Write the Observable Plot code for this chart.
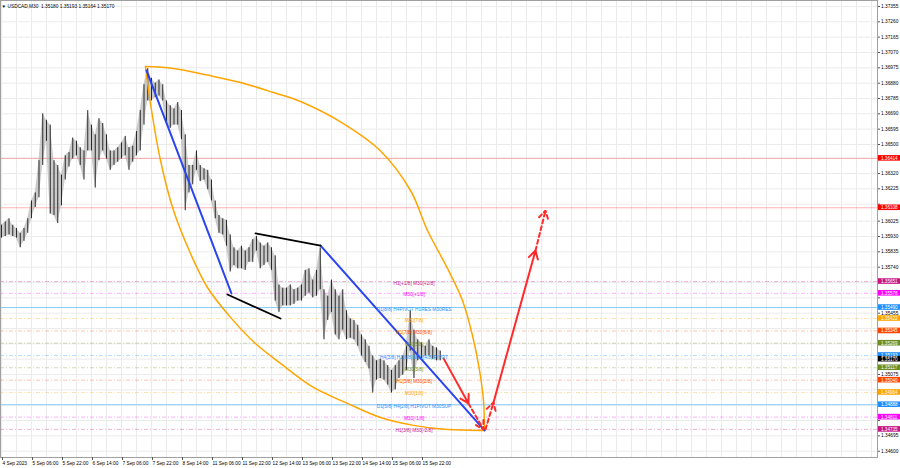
<!DOCTYPE html>
<html><head><meta charset="utf-8">
<script src="https://cdn.jsdelivr.net/npm/d3@7"></script>
<script src="https://cdn.jsdelivr.net/npm/@observablehq/plot@0.6"></script>
<style>
html,body{margin:0;padding:0;background:#fff;}
#chart svg{display:block;}
</style></head><body><div id="chart"></div>
<script>
// ---------- data ----------
const symbolTitle = "USDCAD,M30  1.35180 1.35193 1.35164 1.35170";
const barStep = 4; // one sample every 4 M30 bars
const highs = [
1.3600,1.3602,1.3604,1.3600,1.3598,1.3595,1.3598,1.3604,1.3615,1.3620,
1.3640,1.3669,1.3665,1.3662,1.3640,1.3637,1.3631,1.3643,1.3645,1.3654,
1.3652,1.3648,1.3646,1.3671,1.3662,1.3656,1.3666,1.3663,1.3656,1.3646,
1.3646,1.3648,1.3651,1.3655,1.3648,1.3649,1.3658,1.3671,1.3687,1.3697,
1.3691,1.3688,1.3690,1.3687,1.3677,1.3674,1.3672,1.3676,1.3671,1.3656,
1.3637,1.3637,1.3646,1.3637,1.3635,1.3634,1.3628,1.3615,1.3606,1.3604,
1.3603,1.3594,1.3586,1.3584,1.3587,1.3584,1.3586,1.3591,1.3593,1.3589,
1.3587,1.3589,1.3586,1.3581,1.3563,1.3561,1.3561,1.3563,1.3560,1.3561,
1.3563,1.3572,1.3573,1.3566,1.3572,1.3586,1.3560,1.3556,1.3566,1.3560,
1.3556,1.3560,1.3547,1.3542,1.3541,1.3538,1.3532,1.3529,1.3525,1.3519,
1.3516,1.3517,1.3516,1.3513,1.3510,1.3513,1.3516,1.3519,1.3525,1.3547,
1.3535,1.3529,1.3527,1.3525,1.3529,1.3525,1.3524,1.3522];
const lows = [
1.3592,1.3593,1.3594,1.3593,1.3592,1.3586,1.3590,1.3595,1.3604,1.3611,
1.3617,1.3637,1.3652,1.3607,1.3606,1.3601,1.3612,1.3628,1.3636,1.3641,
1.3643,1.3637,1.3628,1.3646,1.3646,1.3623,1.3640,1.3646,1.3641,1.3634,
1.3637,1.3639,1.3641,1.3643,1.3634,1.3639,1.3643,1.3646,1.3662,1.3677,
1.3677,1.3679,1.3680,1.3677,1.3662,1.3660,1.3662,1.3662,1.3653,1.3609,
1.3620,1.3625,1.3634,1.3627,1.3628,1.3622,1.3615,1.3604,1.3595,1.3594,
1.3587,1.3571,1.3575,1.3573,1.3573,1.3572,1.3577,1.3577,1.3584,1.3573,
1.3575,1.3577,1.3572,1.3553,1.3546,1.3550,1.3550,1.3550,1.3551,1.3553,
1.3553,1.3556,1.3558,1.3555,1.3556,1.3560,1.3529,1.3541,1.3546,1.3532,
1.3529,1.3535,1.3529,1.3530,1.3529,1.3525,1.3519,1.3515,1.3511,1.3496,
1.3504,1.3505,1.3504,1.3501,1.3496,1.3498,1.3505,1.3507,1.3510,1.3522,
1.3505,1.3516,1.3517,1.3519,1.3519,1.3517,1.3516,1.3516];

const timeLabels = ["4 Sep 2023","5 Sep 06:00","5 Sep 22:00","6 Sep 14:00","7 Sep 06:00","7 Sep 22:00","8 Sep 14:00","11 Sep 06:00","11 Sep 22:00","12 Sep 14:00","13 Sep 06:00","13 Sep 22:00","14 Sep 14:00","15 Sep 06:00","15 Sep 22:00"];
const barsPerLabel = 32;
const priceTicks = [1.34600,1.34695,1.34790,1.34885,1.34980,1.35075,1.35170,1.35265,1.35360,1.35455,1.35550,1.35645,1.35740,1.35835,1.35930,1.36025,1.36130,1.36225,1.36320,1.36415,1.36500,1.36595,1.36690,1.36785,1.36880,1.36975,1.37070,1.37165,1.37260,1.37355];

const redLevels = [1.36414, 1.36108];
const levelPrices = [1.35651,1.35578,1.35490,1.35422,1.35345,1.35269,1.35193,1.35117,1.35040,1.34964,1.34888,1.34811,1.34735];
const levelNames = ["H1[+1/8] M30[+2/8]","M30[+1/8]","D1[8/8] H4PIVOT H1RES M30RES","M30[7/8]","H1[7/8] M30[6/8]","M30[5/8]","H4[3/8] H1[6/8] M30[4/8] PIVOT","M30[3/8]","H1[5/8] M30[2/8]","M30[1/8]","D1[5/8] H4[2/8] H1PIVOT M30SUP","M30[-1/8]","H1[3/8] M30[-2/8]"];
const levelColors = ["#c71585","#ff00ff","#1e90ff","#ffa500","#ff4500","#6b8e23","#1e90ff","#6b8e23","#ff4500","#ffa500","#1e90ff","#ff00ff","#c71585"];
const levelSolid = [false,false,true,false,false,false,false,false,false,false,true,false,false];
const currentPrice = 1.35170;

// drawn objects: [bar, price]
const arcUpper = [[153.6,1.36983],[183.5,1.36971],[219.7,1.36930],[254.9,1.36884],[290.1,1.36822],[318.9,1.36766],[361.6,1.36640],[404.3,1.36460],[436.3,1.36215],[454.4,1.35967],[476.8,1.35720],[491.7,1.35534],[502.4,1.35317],[509.9,1.35100],[514.1,1.34914],[515.2,1.34729]];
const arcLower = [[153.6,1.36983],[158.9,1.36754],[169.6,1.36401],[183.5,1.36091],[201.6,1.35825],[219.7,1.35614],[244.3,1.35429],[270.9,1.35267],[297.6,1.35144],[332.8,1.34995],[369.1,1.34896],[404.3,1.34809],[439.5,1.34760],[475.7,1.34734],[515.2,1.34729]];
const blueLines = [[[154.7,1.36958],[245.3,1.35577]], [[340.3,1.35874],[515.2,1.34729]]];
const blackLines = [[[270.9,1.35949],[340.3,1.35874]], [[241.0,1.35571],[297.6,1.35422]]];
const redArrows = [
  {x1:471.5,y1:1.35175,x2:498.1,y2:1.34896,dashed:false},
  {x1:498.1,y1:1.34896,x2:514.1,y2:1.34735,dashed:true},
  {x1:516.3,y1:1.34735,x2:524.8,y2:1.34902,dashed:true},
  {x1:524.8,y1:1.34902,x2:569.6,y2:1.35843,dashed:false},
  {x1:569.6,y1:1.35843,x2:580.3,y2:1.36091,dashed:true}
];

// ---------- build ----------
const W = 900, H = 468;
const plotRight = 877, plotBottom = 457;
const xMin = -1.07, xMax = 934.4;
const yMin = 1.34561, yMax = 1.37392;
const levelLabelBar = 440;

const bars = highs.map((h, i) => ({bar: i * barStep, high: h, low: lows[i]}));
const levels = levelPrices.map((p, i) => ({price: p, name: levelNames[i], color: levelColors[i], solid: levelSolid[i]}));
const boxes = [
  {price: redLevels[0], color: "#ff0000"},
  {price: redLevels[1], color: "#ff0000"},
  ...levels.map(l => ({price: l.price, color: l.color})),
  {price: currentPrice, color: "#000000"}
];
const labelBars = timeLabels.map((_, i) => i * barsPerLabel);
const gridBars = d3.range(0, xMax, barsPerLabel / 2);
const pxPerBar = plotRight / (xMax - xMin);
const pxPerPrice = plotBottom / (yMax - yMin);
const boxX1 = xMax + 1 / pxPerBar, boxX2 = xMax + 23 / pxPerBar;
const halfBox = 2.8 / pxPerPrice;
// tick labels that sit under a price box are hidden by it
const visibleTicks = priceTicks.filter(t => boxes.every(b => Math.abs(b.price - t) * pxPerPrice > 5));

const font = "'Liberation Sans', Arial, sans-serif";

const chart = Plot.plot({
  width: W, height: H,
  marginLeft: 0, marginRight: W - plotRight, marginTop: 0, marginBottom: H - plotBottom,
  style: {fontFamily: font, fontSize: "4.8px", background: "#fff", overflow: "visible"},
  x: {domain: [xMin, xMax], axis: null},
  y: {domain: [yMin, yMax], axis: null},
  marks: [
    // grid
    Plot.ruleY(priceTicks, {stroke: "#ebebeb", strokeWidth: 1}),
    Plot.ruleX(gridBars, {stroke: "#ebebeb", strokeWidth: 1}),
    // levels
    Plot.ruleY(redLevels, {stroke: "#ff0000", strokeOpacity: 0.3, strokeWidth: 1}),
    Plot.ruleY(levels.filter(d => d.solid), {y: "price", stroke: "#87cefa", strokeWidth: 1}),
    Plot.ruleY(levels.filter(d => !d.solid), {y: "price", stroke: "color", strokeOpacity: 0.4, strokeWidth: 0.8, strokeDasharray: "4,2,1,2"}),
    // price bars
    Plot.areaY(bars, {x: "bar", y1: "low", y2: "high", fill: "#a8a8a8", fillOpacity: 0.6}),
    Plot.ruleX(bars, {x: "bar", y1: "low", y2: "high", stroke: "#2a2a2a", strokeWidth: 1}),
    // objects
    Plot.line(arcUpper, {x: d => d[0], y: d => d[1], stroke: "#ffa500", strokeWidth: 1.5, curve: "catmull-rom"}),
    Plot.line(arcLower, {x: d => d[0], y: d => d[1], stroke: "#ffa500", strokeWidth: 1.5, curve: "catmull-rom"}),
    ...blueLines.map(l => Plot.line(l, {x: d => d[0], y: d => d[1], stroke: "#2a44f0", strokeWidth: 2})),
    ...blackLines.map(l => Plot.line(l, {x: d => d[0], y: d => d[1], stroke: "#000", strokeWidth: 1.8})),
    Plot.arrow(redArrows.filter(d => !d.dashed), {x1: "x1", y1: "y1", x2: "x2", y2: "y2", stroke: "#ff2a2a", strokeWidth: 2, headLength: 7}),
    Plot.arrow(redArrows.filter(d => d.dashed), {x1: "x1", y1: "y1", x2: "x2", y2: "y2", stroke: "#ff2a2a", strokeWidth: 2, headLength: 7, strokeDasharray: "4,3"}),
    // level labels
    Plot.text(levels, {x: () => levelLabelBar, y: "price", text: "name", fill: "color", dy: 1.5, fontSize: 4.8}),
    // title
    Plot.text([symbolTitle], {frameAnchor: "top-left", dx: 7, dy: 4, textAnchor: "start", fill: "#000", fontSize: 4.8}),
    Plot.text(["▼"], {frameAnchor: "top-left", dx: 1, dy: 4, textAnchor: "start", fill: "#000", fontSize: 4.5}),
    // frame / separators
    Plot.frame({stroke: "#a0a0a0", strokeWidth: 1}),
    // axes
    Plot.axisY(priceTicks, {anchor: "right", tickSize: 2, tickPadding: 1.5, tickFormat: d => visibleTicks.includes(d) ? d.toFixed(5) : "", stroke: "#555", fill: "#000", fontSize: 4.8, label: null}),
    Plot.axisX(labelBars, {anchor: "bottom", tickSize: 3, tickPadding: 1, textAnchor: "start", dx: 1, tickFormat: d => timeLabels[d / barsPerLabel], stroke: "#555", fill: "#000", fontSize: 4.8, label: null}),
    // price boxes on the axis
    Plot.rect(boxes, {x1: () => boxX1, x2: () => boxX2, y1: d => d.price - halfBox, y2: d => d.price + halfBox, fill: "color"}),
    Plot.text(boxes, {x: () => boxX1, y: "price", text: d => d.price.toFixed(5), fill: "#fff", textAnchor: "start", dx: 2.5, fontSize: 4.6})
  ]
});
document.getElementById("chart").appendChild(chart);
</script>
</body></html>
